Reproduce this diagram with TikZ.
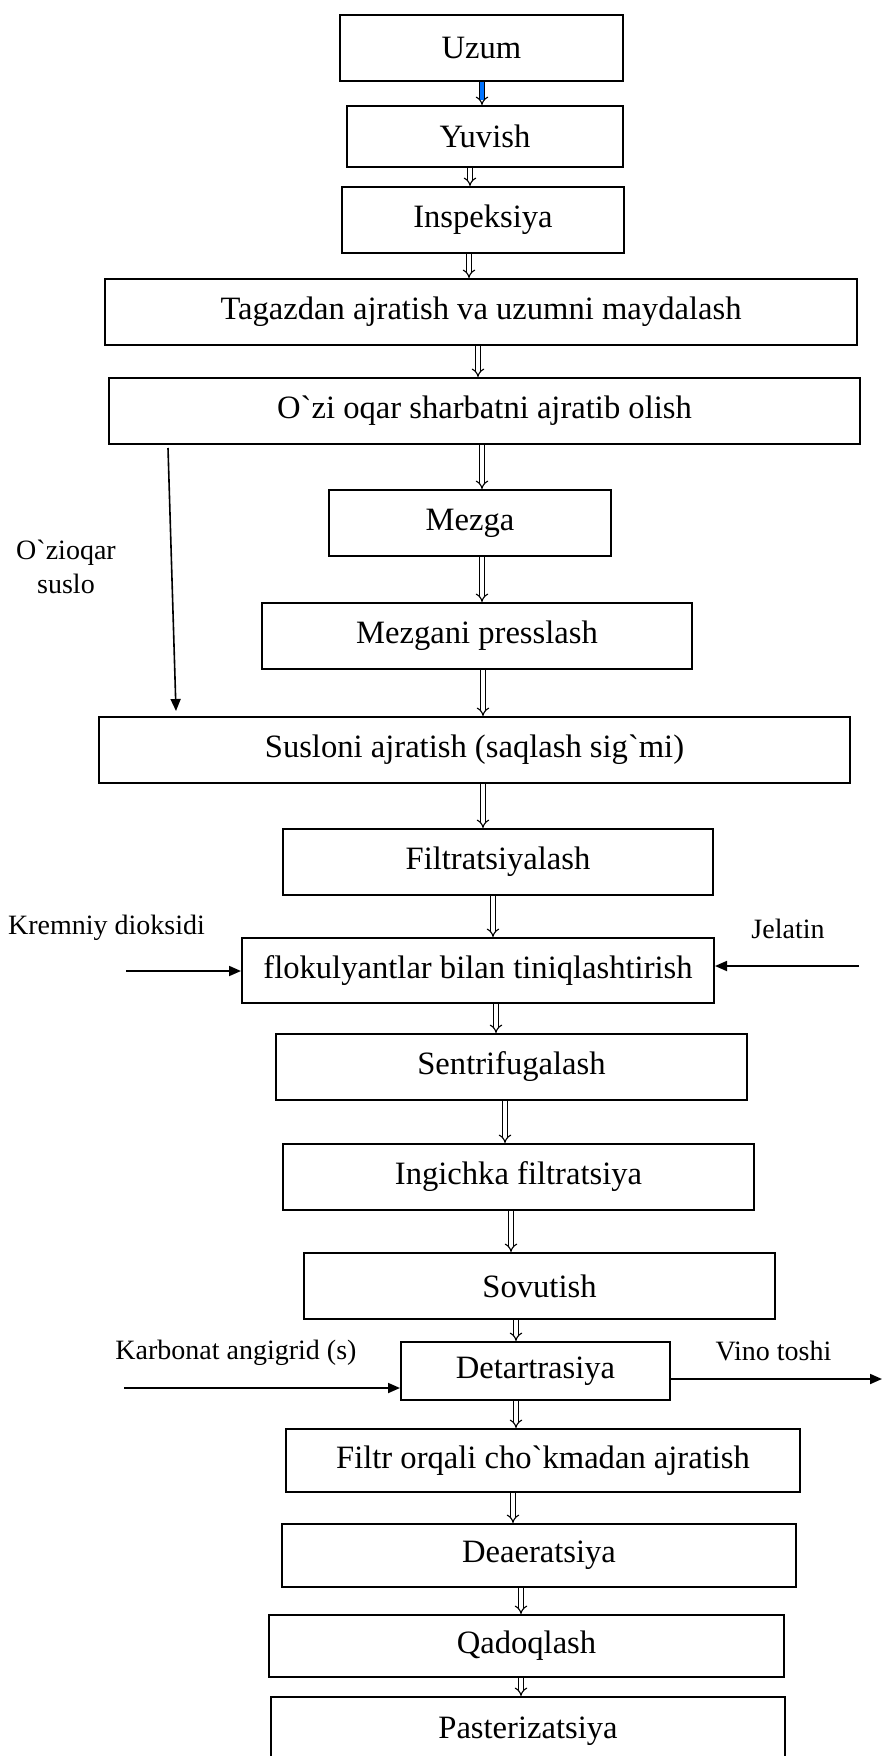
\documentclass[tikz,border=0pt]{standalone}
\usepackage{fontspec}
\setmainfont{Liberation Serif}
\newfontfamily\gravefont{Liberation Serif}
\newcommand{\gr}{{\gravefont\symbol{96}}}
\usetikzlibrary{arrows.meta}
\tikzset{
	box/.style={draw,line width=1pt,inner sep=0pt,font=\fontsize{16.3}{19}\selectfont},
	flow/.style={double,double distance=1.6pt,line width=0.55pt,-{Implies}},
	side/.style={line width=0.9pt,-{Triangle[length=6pt,width=5pt]}},
	note/.style={font=\fontsize{14}{17}\selectfont,inner sep=0pt}
}
\begin{document}
\begin{tikzpicture}[x=0.5pt,y=-0.5pt]
	\useasboundingbox (0,0) rectangle (884,1756);
	\clip (0,0) rectangle (884,1756);
	% boxes
	\node[box,minimum width=141.5pt,minimum height=33pt] (uzum) at (481.5,48) {Uzum};
	\node[box,minimum width=138pt,minimum height=30.5pt] (yuvish) at (485,136.5) {Yuvish};
	\node[box,minimum width=141pt,minimum height=33pt] (insp) at (483,220) {Inspeksiya};
	\node[box,minimum width=376pt,minimum height=33pt] (tagaz) at (481,312) {Tagazdan ajratish va uzumni maydalash};
	\node[box,minimum width=375.5pt,minimum height=33pt] (ozi) at (484.5,411) {O\gr zi oqar sharbatni ajratib olish};
	\node[box,minimum width=141pt,minimum height=33pt] (mezga) at (470,523) {Mezga};
	\node[box,minimum width=215pt,minimum height=33pt] (press) at (477,636) {Mezgani presslash};
	\node[box,minimum width=375.5pt,minimum height=33pt] (suslo) at (474.5,750) {Susloni ajratish (saqlash sig\gr mi)};
	\node[box,minimum width=215pt,minimum height=33pt] (filtr) at (498,862) {Filtratsiyalash};
	\node[box,minimum width=236pt,minimum height=32.5pt] (floku) at (478,970.5) {flokulyantlar bilan tiniqlashtirish};
	\node[box,minimum width=235.5pt,minimum height=33pt] (sentr) at (511.5,1067) {Sentrifugalash};
	\node[box,minimum width=235.5pt,minimum height=33pt] (ingich) at (518.5,1177) {Ingichka filtratsiya};
	\node[box,minimum width=235.5pt,minimum height=33pt] (sovut) at (539.5,1286) {Sovutish};
	\node[box,minimum width=134.5pt,minimum height=29pt] (detar) at (535.5,1371) {Detartrasiya};
	\node[box,minimum width=257pt,minimum height=31.5pt] (filtrorq) at (543,1460.5) {Filtr orqali cho\gr kmadan ajratish};
	\node[box,minimum width=257pt,minimum height=31.5pt] (deaer) at (539,1555.5) {Deaeratsiya};
	\node[box,minimum width=257.5pt,minimum height=31pt] (qadoq) at (526.5,1646) {Qadoqlash};
	\node[box,minimum width=257pt,minimum height=34pt] (paster) at (528,1731) {Pasterizatsiya};
	% main flow
	\draw[flow,double=blue!55!cyan] (uzum.south -| 482,0) -- (yuvish.north -| 482,0);
	\draw[flow] (yuvish.south -| 470,0) -- (insp.north -| 470,0);
	\draw[flow] (insp.south -| 469,0) -- (tagaz.north -| 469,0);
	\draw[flow] (tagaz.south -| 478,0) -- (ozi.north -| 478,0);
	\draw[flow] (ozi.south -| 482,0) -- (mezga.north -| 482,0);
	\draw[flow] (mezga.south -| 482,0) -- (press.north -| 482,0);
	\draw[flow] (press.south -| 483,0) -- (suslo.north -| 483,0);
	\draw[flow] (suslo.south -| 483,0) -- (filtr.north -| 483,0);
	\draw[flow] (filtr.south -| 493,0) -- (floku.north -| 493,0);
	\draw[flow] (floku.south -| 496,0) -- (sentr.north -| 496,0);
	\draw[flow] (sentr.south -| 505,0) -- (ingich.north -| 505,0);
	\draw[flow] (ingich.south -| 511,0) -- (sovut.north -| 511,0);
	\draw[flow] (sovut.south -| 516,0) -- (detar.north -| 516,0);
	\draw[flow] (detar.south -| 516,0) -- (filtrorq.north -| 516,0);
	\draw[flow] (filtrorq.south -| 513,0) -- (deaer.north -| 513,0);
	\draw[flow] (deaer.south -| 521,0) -- (qadoq.north -| 521,0);
	\draw[flow] (qadoq.south -| 521,0) -- (paster.north -| 521,0);
	% side inputs and outputs
	\node[note,align=center] (oziqar) at (66,567) {O\gr zioqar\\suslo};
	\draw[side,line width=0.8pt] ([xshift=30pt,yshift=-1.5pt]ozi.south west) -- ([xshift=39pt,yshift=2.5pt]suslo.north west);
	\node[note] (kremniy) at (106.5,928) {Kremniy dioksidi};
	\coordinate (kin) at (126,971);
	\draw[side] (kin) -- (floku.west |- kin);
	\node[note] (jelatin) at (788,929) {Jelatin};
	\coordinate (jin) at (859,966);
	\draw[side] (jin) -- (floku.east |- jin);
	\node[note] (karbonat) at (236,1353) {Karbonat angigrid (s)};
	\coordinate (cin) at (124,1388);
	\draw[side] (cin) -- (detar.west |- cin);
	\node[note] (vino) at (773.5,1351) {Vino toshi};
	\coordinate (vout) at (882,1379);
	\draw[side] (detar.east |- vout) -- (vout);
\end{tikzpicture}
\end{document}
